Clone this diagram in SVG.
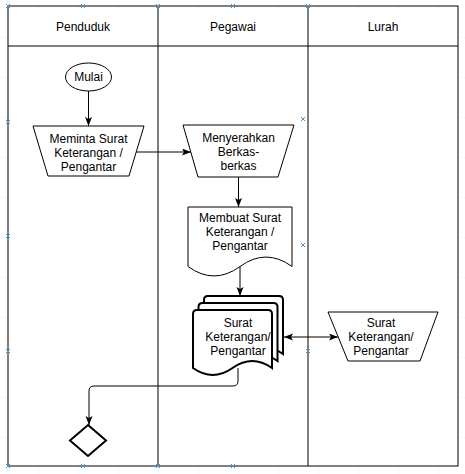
<svg xmlns="http://www.w3.org/2000/svg" width="465" height="474" viewBox="0 0 465 474">
  <style>
    .t { font-family: "Liberation Sans", Arial, sans-serif; font-size: 12px; fill: #000; text-anchor: middle; }
    .shape { fill: #fff; stroke: #000; stroke-width: 1; }
    .thick { fill: #fff; stroke: #000; stroke-width: 2; }
    .lane { fill: none; stroke: #000; stroke-width: 1; }
    .edge { fill: none; stroke: #000; stroke-width: 1; }
    .mk { stroke: #4f90c0; stroke-width: 1; fill: none; }
  </style>
  <defs>
    <pattern id="grid" x="38" y="37" width="40" height="40" patternUnits="userSpaceOnUse">
      <path d="M0,0 L40,0 M0,0 L0,40" fill="none" stroke="#f0f0f0" stroke-width="1"/>
    </pattern>
    <marker id="arr" markerUnits="userSpaceOnUse" markerWidth="10" markerHeight="8" refX="9" refY="3.5" orient="auto-start-reverse">
      <path d="M0,0 L9,3.5 L0,7 L2,3.5 Z" fill="#000"/>
    </marker>
  </defs>
  <rect x="0" y="0" width="465" height="474" fill="#fff"/>
  <rect x="0" y="0" width="465" height="474" fill="url(#grid)"/>

  <g id="swimlanes">
    <rect x="8" y="6" width="450" height="460" fill="#fff" stroke="none"/>
    <rect class="lane" x="8" y="6" width="450" height="460"/>
    <line class="lane" x1="8" y1="46" x2="458" y2="46"/>
    <line class="lane" x1="158" y1="6" x2="158" y2="466"/>
    <line class="lane" x1="308" y1="6" x2="308" y2="466"/>
    <text class="t" x="83" y="31">Penduduk</text>
    <text class="t" x="233" y="31">Pegawai</text>
    <text class="t" x="383" y="31">Lurah</text>
  </g>

  <g id="markers">
    <path class="mk" d="M6,4 l4,4 m0,-4 l-4,4 M81,4 l4,4 m0,-4 l-4,4 M156,4 l4,4 m0,-4 l-4,4 M231,4 l4,4 m0,-4 l-4,4 M306,4 l4,4 m0,-4 l-4,4"/>
    <path class="mk" d="M6,120 l4,4 m0,-4 l-4,4 M6,234 l4,4 m0,-4 l-4,4 M6,349 l4,4 m0,-4 l-4,4 M6,464 l4,4 m0,-4 l-4,4"/>
    <path class="mk" d="M81,464 l4,4 m0,-4 l-4,4 M156,464 l4,4 m0,-4 l-4,4 M231,464 l4,4 m0,-4 l-4,4"/>
    <path class="mk" d="M301,117 l4,4 m0,-4 l-4,4 M301,243 l4,4 m0,-4 l-4,4 M306,349 l4,4 m0,-4 l-4,4"/>
  </g>

  <g id="connectors">
    <line class="edge" x1="88.5" y1="91" x2="88.5" y2="126" marker-end="url(#arr)"/>
    <line class="edge" x1="136" y1="152" x2="191" y2="152" marker-end="url(#arr)"/>
    <line class="edge" x1="238.5" y1="177" x2="238.5" y2="207" marker-end="url(#arr)"/>
    <line class="edge" x1="240" y1="266.5" x2="240" y2="296" marker-end="url(#arr)"/>
    <line class="edge" x1="284" y1="337" x2="338" y2="337" marker-start="url(#arr)" marker-end="url(#arr)"/>
    <path class="edge" d="M238,368 L238,381 Q238,386 233,386 L94,386 Q89,386 89,391 L89,425" marker-end="url(#arr)"/>
  </g>

  <g id="mulai">
    <ellipse class="shape" cx="88.5" cy="77" rx="23" ry="14"/>
    <text class="t" x="88.5" y="81">Mulai</text>
  </g>

  <g id="meminta">
    <path class="shape" d="M33,126 L144,126 L129,176 L48,176 Z"/>
    <text class="t" x="88.5" y="143">Meminta Surat</text>
    <text class="t" x="88.5" y="157">Keterangan /</text>
    <text class="t" x="88.5" y="171">Pengantar</text>
  </g>

  <g id="menyerahkan">
    <path class="shape" d="M183,125 L294,125 L278,177 L198,177 Z"/>
    <text class="t" x="238.5" y="142">Menyerahkan</text>
    <text class="t" x="238.5" y="156">Berkas-</text>
    <text class="t" x="238.5" y="170">berkas</text>
  </g>

  <g id="membuat">
    <path class="shape" d="M188,207 L292,207 L292,266.5 Q266,247.6 240,266.5 Q214,285.4 188,266.5 Z"/>
    <text class="t" x="240" y="222">Membuat Surat</text>
    <text class="t" x="240" y="236">Keterangan /</text>
    <text class="t" x="240" y="250">Pengantar</text>
  </g>

  <g id="surat-pegawai">
    <path class="thick" d="M204,354 L204,300 Q204,296 208,296 L279,296 Q283,296 283,300 L283,354 Q263.25,340 243.5,354 Q223.75,368 204,354 Z"/>
    <path class="thick" d="M198.5,361 L198.5,307 Q198.5,303 202.5,303 L273.5,303 Q277.5,303 277.5,307 L277.5,361 Q257.75,347 238,361 Q218.25,375 198.5,361 Z"/>
    <path class="thick" d="M193,368 L193,314 Q193,310 197,310 L268,310 Q272,310 272,314 L272,368 Q252.25,354 232.5,368 Q212.75,382 193,368 Z"/>
    <text class="t" x="238" y="327">Surat</text>
    <text class="t" x="238" y="341">Keterangan/</text>
    <text class="t" x="238" y="355">Pengantar</text>
  </g>

  <g id="surat-lurah">
    <path class="shape" d="M328,312 L438,312 L420,361 L348,361 Z"/>
    <text class="t" x="381" y="327">Surat</text>
    <text class="t" x="381" y="341">Keterangan/</text>
    <text class="t" x="381" y="355">Pengantar</text>
  </g>

  <g id="decision">
    <path class="thick" d="M88,425 L106,440.5 L88,456 L70,440.5 Z"/>
  </g>
</svg>
